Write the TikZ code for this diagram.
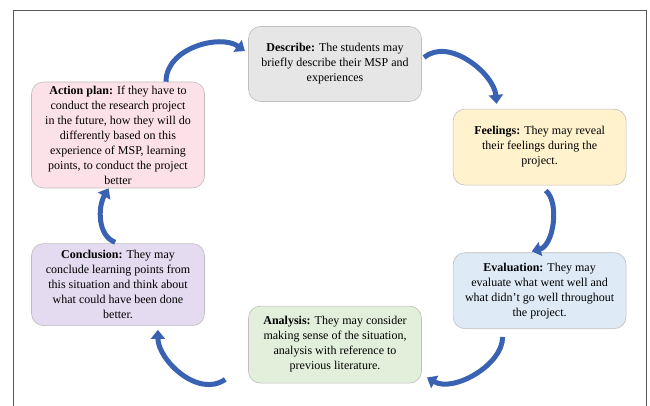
\documentclass[tikz,border=0pt]{standalone}
\usepackage{fontspec}
\setmainfont{Liberation Serif}
\usetikzlibrary{arrows.meta,positioning}
\definecolor{boxline}{RGB}{190,190,190}
\definecolor{framegray}{RGB}{90,90,90}
\definecolor{arrowblue}{RGB}{58,98,178}
\definecolor{descfill}{RGB}{231,230,230}
\definecolor{feelfill}{RGB}{255,242,204}
\definecolor{evalfill}{RGB}{222,234,246}
\definecolor{analfill}{RGB}{226,239,218}
\definecolor{conclfill}{RGB}{228,219,240}
\definecolor{actfill}{RGB}{252,225,232}
\tikzset{
    %Define style for boxes
    stage/.style={
           rectangle,
           rounded corners=12pt,
           draw=boxline, line width=0.6pt,
           minimum width=173pt,
           inner sep=2pt,
           align=center,
           font=\fontsize{12}{15}\selectfont},
    % Define arrow style
    flow/.style={
           -{Triangle[width=14pt,length=9pt]},
           draw=arrowblue,
           line width=5pt}
}

\begin{document}
\begin{tikzpicture}[x=1pt,y=1pt,node distance=30pt]
\useasboundingbox (0,0) rectangle (650,-406);
\draw[framegray, line width=0.8pt] (13,-406) -- (13,-10) -- (646,-10) -- (646,-406);

\node[stage, fill=descfill, minimum height=75pt] at (335,-64) (desc)
  {\textbf{Describe:} The students may\\ briefly describe their MSP and\\ experiences};
\node[stage, fill=feelfill, minimum height=76pt, below right=7pt and 31pt of desc] (feel)
  {\textbf{Feelings:} They may reveal\\ their feelings during the\\ project.};
\node[stage, fill=evalfill, minimum height=76pt, below=67pt of feel] (eval)
  {\textbf{Evaluation:} They may\\ evaluate what went well and\\ what didn’t go well throughout\\ the project.};
\node[stage, fill=analfill, minimum height=77pt, below=204pt of desc] (anal)
  {\textbf{Analysis:} They may consider\\ making sense of the situation,\\ analysis with reference to\\ previous literature.};
\node[stage, fill=actfill, minimum height=106pt] at (118,-135) (act)
  {\textbf{Action plan:} If they have to\\ conduct the research project\\ in the future, how they will do\\ differently based on this\\ experience of MSP, learning\\ points, to conduct the project\\ better};
\node[stage, fill=conclfill, minimum height=82pt, below=55pt of act] (concl)
  {\textbf{Conclusion:} They may\\ conclude learning points from\\ this situation and think about\\ what could have been done\\ better.};
\coordinate[left=23pt of anal.south west, yshift=4pt] (analtail);

% cycle arrows
\draw[flow, shorten >=4pt] (act.48) to[out=90,in=145] (desc.173);
\draw[flow, shorten <=3pt, shorten >=5pt] (desc.3) to[out=40,in=95] (feel.138);
\draw[flow, shorten <=8pt, shorten >=4pt] (feel.south) to[out=-40,in=15] (eval.107);
\draw[flow, shorten <=8pt, shorten >=6pt] (eval.-134) to[out=-90,in=-30] (anal.-19);
\draw[flow, shorten >=4pt] (analtail) to[out=215,in=-90] (concl.-46);
\draw[flow, shorten <=3pt] (concl.north) to[out=160,in=-120] (act.-100);
\end{tikzpicture}
\end{document}
